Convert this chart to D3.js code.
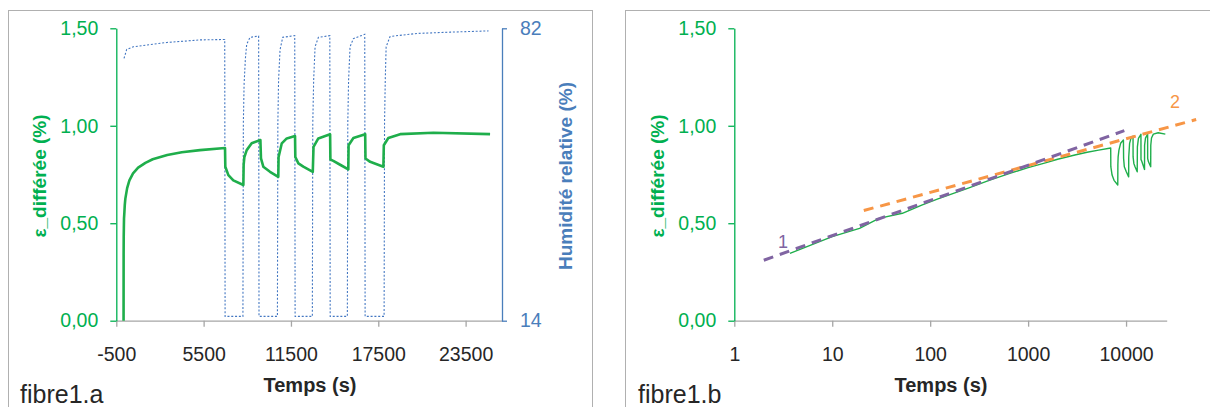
<!DOCTYPE html>
<html>
<head>
<meta charset="utf-8">
<script src="https://cdn.jsdelivr.net/npm/d3@7"></script>
<style>
  html, body { margin: 0; padding: 0; background: #fff; }
  svg { display: block; font-family: "Liberation Sans", Arial, sans-serif; }
</style>
</head>
<body>
<svg id="chart" width="1210" height="407"></svg>
<script>
// ---------- DATA ----------
// strain (ε_différée, %) vs time (s)
const strainTime = [0, 3.7, 10, 19, 30, 52, 82, 120, 245, 400, 650, 1000, 1500, 2000, 3000, 4000, 5250, 6970,
  6990, 7200, 7540, 8230,
  8250, 8300, 8460, 8800, 9400,
  9440, 9600, 10060, 10630,
  10650, 10870, 11210, 11780,
  11800, 12010, 12350, 13000,
  13050, 13380, 14190,
  14210, 14410, 14880, 15440,
  15460, 15790, 16600,
  16620, 16940, 17850,
  17880, 18190, 19000, 21290, 25180];
const strainValue = [0.00, 0.345, 0.431, 0.474, 0.525, 0.551, 0.593, 0.625, 0.68, 0.72, 0.756, 0.785, 0.81, 0.828, 0.85, 0.864, 0.875, 0.886,
  0.79, 0.747, 0.72, 0.696,
  0.80, 0.84, 0.875, 0.91, 0.927,
  0.833, 0.79, 0.764, 0.738,
  0.84, 0.91, 0.935, 0.947,
  0.84, 0.807, 0.79, 0.764,
  0.892, 0.935, 0.956,
  0.827, 0.82, 0.80, 0.776,
  0.90, 0.937, 0.957,
  0.832, 0.815, 0.79,
  0.90, 0.937, 0.957, 0.964, 0.957];

// relative humidity (%) vs time (s)
const rhTime = [30, 215, 670, 2964, 5250, 6950, 6975, 8200,
  8230, 8280, 8370, 8460, 8690, 9280, 9305, 10570,
  10600, 10650, 10750, 10935, 11760, 11785, 12970,
  13000, 13060, 13157, 13385, 14170, 14195, 15375,
  15405, 15460, 15560, 15790, 16570, 16595, 17900,
  17930, 17980, 18040, 18310, 20150, 22430, 25070];
const rhValue = [75.0, 77.1, 77.7, 78.7, 79.3, 79.4, 15, 15,
  60, 69, 75, 78.3, 79.9, 80.2, 15, 15,
  60, 70, 77, 79.9, 80.3, 15, 15,
  60, 70, 77.7, 79.9, 80.3, 15, 15,
  60, 70, 77.7, 79.6, 80.6, 15, 15,
  60, 70, 77.7, 80.1, 80.8, 81.1, 81.4];

// log-time trend lines
const fit1Time = [2, 9600];
const fit1Value = [0.31, 0.975];
const fit2Time = [21, 52000];
const fit2Value = [0.565, 1.032];

// ticks / labels
const strainTicks = [0, 0.5, 1.0, 1.5];
const rhTicks = [14, 82];
const linTimeTicks = [-500, 5500, 11500, 17500, 23500];
const logTimeTicks = [1, 10, 100, 1000, 10000];

// ---------- STYLE ----------
const GREEN = "#00b050", GREEN_LINE = "#1fae4b", BLUE = "#4a7ebb", BLUE_LINE = "#4377c2";
const PURPLE = "#8064a2", ORANGE = "#f79646", GREY = "#a6a6a6", TEXT = "#262626";
const FONT = 19.5;

const svg = d3.select("#chart");
const fmt = d => d.toFixed(2).replace(".", ",");
const plain = d => String(d);

// panel frames
svg.append("rect").attr("x", 8.5).attr("y", 10.5).attr("width", 584).attr("height", 430)
  .attr("fill", "none").attr("stroke", "#b0b0b0");
svg.append("rect").attr("x", 625.5).attr("y", 10.5).attr("width", 620).attr("height", 430)
  .attr("fill", "none").attr("stroke", "#b0b0b0");

const yTop = 28.3, yBot = 320.7;

function styleAxis(g, color, textColor) {
  g.select(".domain").attr("stroke", color).attr("stroke-width", 1.3);
  g.selectAll(".tick line").attr("stroke", color).attr("stroke-width", 1.3);
  g.selectAll(".tick text").attr("fill", textColor).attr("font-size", FONT)
    .attr("font-family", "Liberation Sans, Arial, sans-serif");
}

// ---------- PANEL A ----------
{
  const x = d3.scaleLinear().domain([-500, 26000]).range([116.3, 502]);
  const y = d3.scaleLinear().domain([0, 1.5]).range([yBot, yTop]);
  const yr = d3.scaleLinear().domain([14, 82]).range([yBot, yTop]);

  const gx = svg.append("g").attr("transform", `translate(0,${yBot})`)
    .call(d3.axisBottom(x).tickValues(linTimeTicks).tickSizeInner(6).tickSizeOuter(0).tickPadding(20).tickFormat(plain));
  styleAxis(gx, GREY, TEXT);

  const gy = svg.append("g").attr("transform", `translate(116.3,0)`)
    .call(d3.axisLeft(y).tickValues(strainTicks).tickSizeInner(6).tickSizeOuter(0).tickPadding(12).tickFormat(fmt));
  styleAxis(gy, GREEN, GREEN);

  const gr = svg.append("g").attr("transform", `translate(502,0)`)
    .call(d3.axisRight(yr).tickValues(rhTicks).tickSizeInner(5).tickSizeOuter(0).tickPadding(13).tickFormat(plain));
  styleAxis(gr, BLUE, BLUE);

  // RH dotted line
  const rhData = rhTime.map((t, i) => [t, rhValue[i]]);
  svg.append("path").datum(rhData)
    .attr("d", d3.line().x(d => x(d[0])).y(d => yr(d[1])))
    .attr("fill", "none").attr("stroke", BLUE_LINE).attr("stroke-width", 1.1)
    .attr("stroke-dasharray", "2,1.8");

  // strain line
  const sData = strainTime.map((t, i) => [t, strainValue[i]]);
  svg.append("path").datum(sData)
    .attr("d", d3.line().x(d => x(d[0])).y(d => y(d[1])))
    .attr("fill", "none").attr("stroke", GREEN_LINE).attr("stroke-width", 2.6)
    .attr("stroke-linejoin", "round");

  svg.append("text").attr("transform", "translate(46,176) rotate(-90)")
    .attr("text-anchor", "middle").attr("font-weight", "bold").attr("font-size", 19)
    .attr("fill", GREEN).text("ε_différée (%)");
  svg.append("text").attr("transform", "translate(572,176) rotate(-90)")
    .attr("text-anchor", "middle").attr("font-weight", "bold").attr("font-size", 19)
    .attr("fill", BLUE).text("Humidité relative (%)");
  svg.append("text").attr("x", 310).attr("y", 392).attr("text-anchor", "middle")
    .attr("font-weight", "bold").attr("font-size", 20).attr("fill", TEXT).text("Temps (s)");
  svg.append("text").attr("x", 20).attr("y", 403)
    .attr("font-size", 25).attr("fill", TEXT).text("fibre1.a");
}

// ---------- PANEL B ----------
{
  const x = d3.scaleLog().domain([1, 26000]).range([734.3, 1166.7]);
  const y = d3.scaleLinear().domain([0, 1.5]).range([yBot, yTop]);

  const gx = svg.append("g").attr("transform", `translate(0,${yBot})`)
    .call(d3.axisBottom(x).tickValues(logTimeTicks).tickSizeInner(6).tickSizeOuter(0).tickPadding(20).tickFormat(plain));
  styleAxis(gx, GREY, TEXT);

  const gy = svg.append("g").attr("transform", `translate(734.3,0)`)
    .call(d3.axisLeft(y).tickValues(strainTicks).tickSizeInner(6).tickSizeOuter(0).tickPadding(12).tickFormat(fmt));
  styleAxis(gy, GREEN, GREEN);

  const sData = strainTime.map((t, i) => [t, strainValue[i]]).filter(d => d[0] > 0);
  svg.append("path").datum(sData)
    .attr("d", d3.line().x(d => x(d[0])).y(d => y(d[1])))
    .attr("fill", "none").attr("stroke", GREEN_LINE).attr("stroke-width", 1.4)
    .attr("stroke-linejoin", "round");

  const f1 = fit1Time.map((t, i) => [t, fit1Value[i]]);
  const f2 = fit2Time.map((t, i) => [t, fit2Value[i]]);
  const ln = d3.line().x(d => x(d[0])).y(d => y(d[1]));
  svg.append("path").datum(f2).attr("d", ln).attr("fill", "none")
    .attr("stroke", ORANGE).attr("stroke-width", 3).attr("stroke-dasharray", "10,7");
  svg.append("path").datum(f1).attr("d", ln).attr("fill", "none")
    .attr("stroke", PURPLE).attr("stroke-width", 3).attr("stroke-dasharray", "10,7");

  svg.append("text").attr("x", 783).attr("y", 248).attr("text-anchor", "middle")
    .attr("font-size", 18).attr("fill", PURPLE).text("1");
  svg.append("text").attr("x", 1175).attr("y", 108).attr("text-anchor", "middle")
    .attr("font-size", 18).attr("fill", ORANGE).text("2");

  svg.append("text").attr("transform", "translate(664,176) rotate(-90)")
    .attr("text-anchor", "middle").attr("font-weight", "bold").attr("font-size", 19)
    .attr("fill", GREEN).text("ε_différée (%)");
  svg.append("text").attr("x", 941).attr("y", 392).attr("text-anchor", "middle")
    .attr("font-weight", "bold").attr("font-size", 20).attr("fill", TEXT).text("Temps (s)");
  svg.append("text").attr("x", 638).attr("y", 403)
    .attr("font-size", 25).attr("fill", TEXT).text("fibre1.b");
}
</script>
</body>
</html>
